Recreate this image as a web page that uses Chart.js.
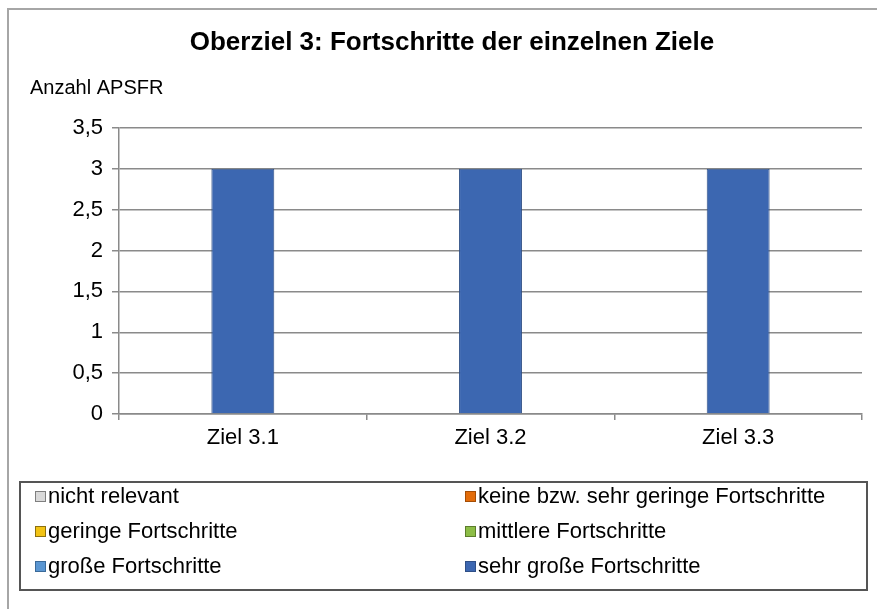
<!DOCTYPE html>
<html>
<head>
<meta charset="utf-8">
<script src="https://cdn.jsdelivr.net/npm/chart.js@4"></script>
<style>
  body { margin: 0; background: #fff; }
  #wrap { position: relative; width: 877px; height: 609px; overflow: hidden; font-family: "Liberation Sans", Arial, sans-serif; }
  #frame { position: absolute; left: 7px; top: 8px; width: 900px; height: 700px; border: 2px solid #a6a6a6; box-sizing: border-box; }
  #chart { position: absolute; left: 0; top: 0; }
  #legend { position: absolute; left: 19px; top: 481px; width: 849px; height: 110px; border: 2px solid #555; box-sizing: border-box; }
  .item { position: absolute; font-size: 22px; color: #000; line-height: 24px; white-space: nowrap; }
  .sw { display: inline-block; width: 9px; height: 9px; border: 1px solid #555; margin-right: 2px; vertical-align: 1px; }
</style>
</head>
<body>
<div id="wrap">
  <div id="frame"></div>
  <canvas id="chart" width="877" height="609"></canvas>
  <div id="legend"></div>
</div>
<script>
// data
const categories = ['Ziel 3.1', 'Ziel 3.2', 'Ziel 3.3'];
const seriesNames = ['nicht relevant', 'keine bzw. sehr geringe Fortschritte', 'geringe Fortschritte',
    'mittlere Fortschritte', 'große Fortschritte', 'sehr große Fortschritte'];
const nichtRelevant = [0, 0, 0];
const keineFortschritte = [0, 0, 0];
const geringeFortschritte = [0, 0, 0];
const mittlereFortschritte = [0, 0, 0];
const grosseFortschritte = [0, 0, 0];
const sehrGrosseFortschritte = [3, 3, 3];
const seriesColors = ['#d9d9d9', '#e36c0a', '#f2c314', '#8cbd46', '#5a96d2', '#3c67b1'];
const seriesBorders = ['#7f7f7f', '#a44d06', '#8c7010', '#5c7d2c', '#3b6a99', '#2f4f86'];

const allValues = [nichtRelevant, keineFortschritte, geringeFortschritte,
    mittlereFortschritte, grosseFortschritte, sehrGrosseFortschritte];

const datasets = allValues.map((vals, i) => ({
    label: seriesNames[i],
    data: vals,
    backgroundColor: seriesColors[i],
    borderColor: seriesBorders[i],
    borderWidth: i === 5 ? 1 : 0,
    categoryPercentage: 1,
    barPercentage: 0.254
}));

const gridColor = '#8a8a8a';

// title + horizontal axis caption
const textPlugin = {
    id: 'texts',
    afterDraw(chart) {
        const ctx = chart.ctx;
        ctx.save();
        ctx.fillStyle = '#000';
        ctx.textBaseline = 'middle';
        ctx.textAlign = 'center';
        ctx.font = 'bold 26px "Liberation Sans", Arial, sans-serif';
        ctx.fillText('Oberziel 3: Fortschritte der einzelnen Ziele', 452, 43);
        ctx.textAlign = 'left';
        ctx.font = '20px "Liberation Sans", Arial, sans-serif';
        ctx.fillText('Anzahl APSFR', 30, 88);
        ctx.restore();
    }
};

const ctx = document.getElementById('chart').getContext('2d');
new Chart(ctx, {
    type: 'bar',
    data: { labels: categories, datasets: datasets },
    plugins: [textPlugin],
    options: {
        responsive: false,
        animation: false,
        layout: { padding: { left: 0, top: 128, right: 15, bottom: 155 } },
        plugins: {
            legend: { display: false },
            title: { display: false },
            tooltip: { enabled: false }
        },
        scales: {
            x: {
                stacked: true,
                grid: { drawOnChartArea: false, drawTicks: true, tickLength: 6, color: gridColor, lineWidth: 1.5 },
                border: { display: true, color: gridColor, width: 1.5 },
                ticks: { color: '#000', padding: 5, font: { family: '"Liberation Sans", Arial, sans-serif', size: 22 } },
                afterFit(scale) { scale.height = 40; }
            },
            y: {
                stacked: true,
                min: 0,
                max: 3.5,
                grid: { color: gridColor, lineWidth: 1.5, tickLength: 7 },
                border: { display: true, color: gridColor, width: 1.5 },
                ticks: {
                    stepSize: 0.5,
                    color: '#000',
                    padding: 9,
                    font: { family: '"Liberation Sans", Arial, sans-serif', size: 22 },
                    callback: v => String(v).replace('.', ',')
                },
                afterFit(scale) { scale.width = 119; }
            }
        }
    }
});

// legend box, two columns
const legend = document.getElementById('legend');
const colX = [14, 444];
const rowY = [1, 36, 71];
seriesNames.forEach((name, i) => {
    const el = document.createElement('div');
    el.className = 'item';
    el.style.left = colX[i % 2] + 'px';
    el.style.top = rowY[Math.floor(i / 2)] + 'px';
    el.innerHTML = '<span class="sw" style="background:' + seriesColors[i] + ';border-color:' + seriesBorders[i] + '"></span>' + name;
    legend.appendChild(el);
});
</script>
</body>
</html>
